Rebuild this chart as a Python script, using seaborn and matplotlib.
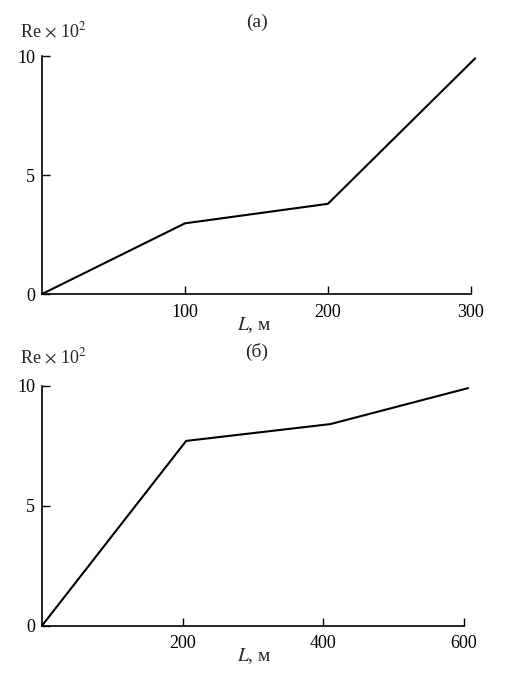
import matplotlib
matplotlib.use("Agg")
import matplotlib.pyplot as plt
import seaborn as sns
import pandas as pd

# panel (a)
L_a = [0, 100, 200, 303]
re_a = [0, 2.97, 3.79, 9.9]
# panel (b)
L_b = [0, 205, 410, 606]
re_b = [0, 7.7, 8.4, 9.9]

xticks_a = [100, 200, 300]
xticks_b = [200, 400, 600]
yticks = [0, 5, 10]

sns.set_style("ticks")
plt.rcParams['font.family'] = ['Liberation Serif', 'DejaVu Serif']
plt.rcParams['mathtext.fontset'] = 'stix'

fig = plt.figure(figsize=(5.09, 6.83), dpi=100)
ax_a = fig.add_axes([0.0825, 0.5695, 0.8425, 0.3485])
ax_b = fig.add_axes([0.0825, 0.0839, 0.8291, 0.3514])

panels = [
    (ax_a, L_a, re_a, xticks_a, (0, 300), "(а)", 0.968, 0.955, 0.524),
    (ax_b, L_b, re_b, xticks_b, (0, 600), "(б)", 0.484, 0.477, 0.04),
]

for ax, xs, ys, xt, xlim, ttl, ty, ly, xly in panels:
    df = pd.DataFrame({"L": xs, "Re": ys})
    sns.lineplot(data=df, x="L", y="Re", ax=ax, color="black", linewidth=1.5,
                 clip_on=False)
    ax.set_xlim(*xlim)
    ax.set_ylim(0, 10)
    ax.set_xticks(xt)
    ax.set_yticks(yticks)
    ax.tick_params(direction="in", length=6, width=1, labelsize=13, pad=5,
                   colors="black")
    ax.tick_params(axis="x", pad=7)
    for s in ["left", "bottom"]:
        ax.spines[s].set_linewidth(1.2)
        ax.spines[s].set_color("black")
    sns.despine(ax=ax)
    ax.set_xlabel("")
    ax.set_ylabel("")
    fig.text(0.505, ty, ttl, ha="center", va="center", fontsize=14)
    fig.text(0.04, ly, r"Re $\times$ 10$^2$", ha="left", va="center", fontsize=13)
    fig.text(0.5, xly, r"$\mathit{L}$, м", ha="center", va="center", fontsize=14)

fig.savefig("out.png", dpi=100)
